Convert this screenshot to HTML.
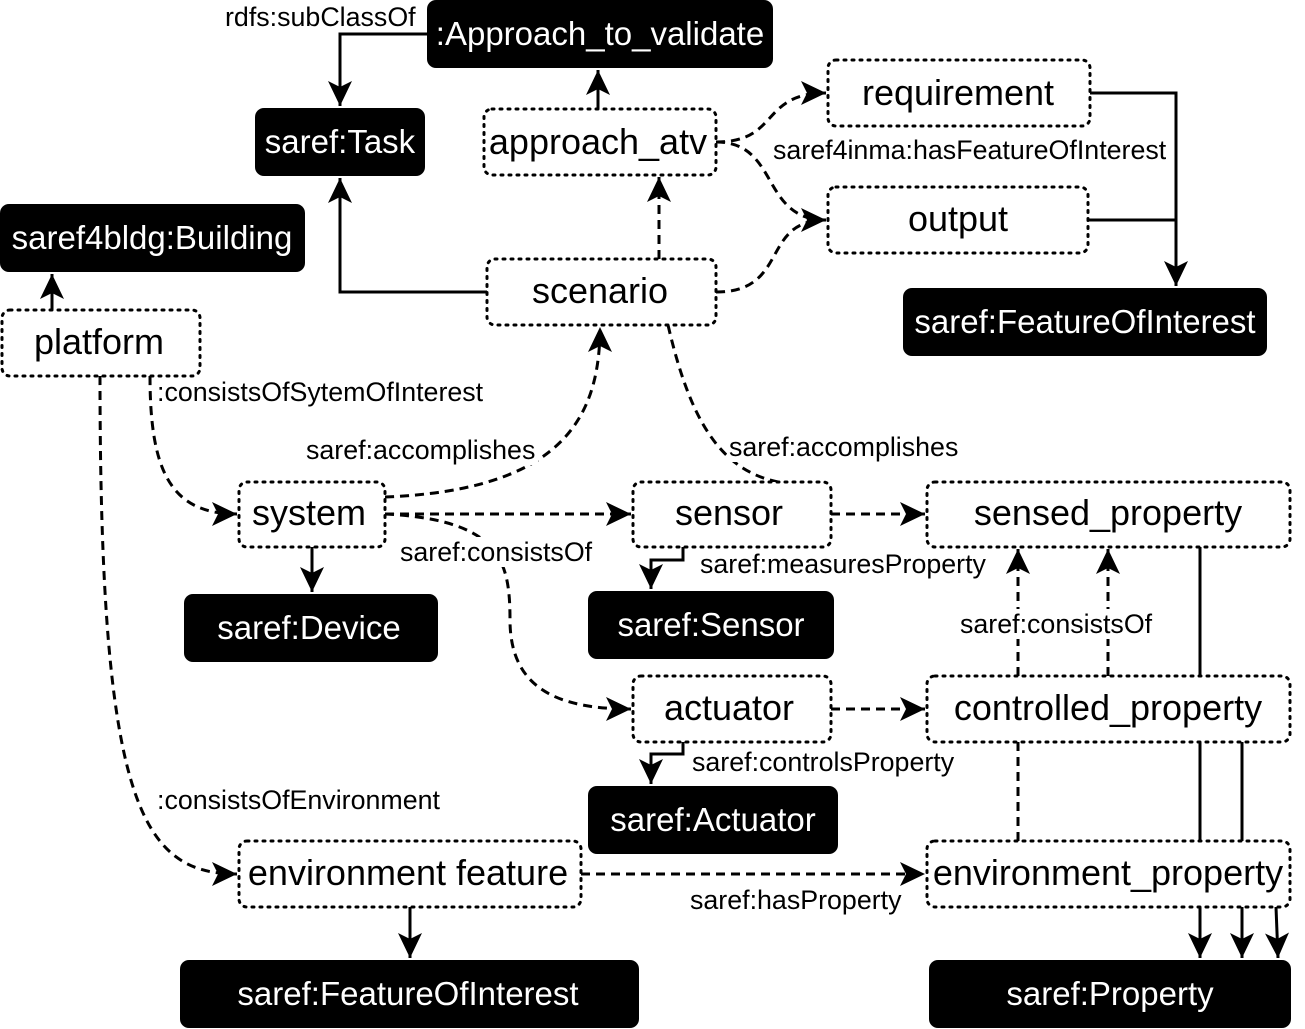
<!DOCTYPE html>
<html><head><meta charset="utf-8"><style>
body{margin:0;background:#fff}
svg{display:block;font-family:"Liberation Sans",sans-serif}
.d{fill:#fff;stroke:#000;stroke-width:3;stroke-dasharray:2 6;stroke-linecap:round}
.b{fill:#000}
.nt{font-size:36px;text-anchor:middle}
.bt{font-size:33px;text-anchor:middle;fill:#fff}
.l{font-size:26.8px}
.s{fill:none;stroke:#000;stroke-width:3}
.da{fill:none;stroke:#000;stroke-width:3;stroke-dasharray:9 6}
</style></head><body>
<svg width="1305" height="1029" viewBox="0 0 1305 1029">
<defs>
<marker id="A" markerWidth="26" markerHeight="24" refX="25" refY="12" orient="auto" markerUnits="userSpaceOnUse"><path d="M0,0 L25,12 L0,24 L6,12 z"/></marker></defs>

<path class="s" d="M598,109 V70" marker-end="url(#A)"/>
<path class="s" d="M427,34 H340 V106" marker-end="url(#A)"/>
<path class="s" d="M487,292 H340 V178" marker-end="url(#A)"/>
<path class="da" d="M659,259 V177" marker-end="url(#A)"/>
<path class="da" d="M716,142 C780,142 760,93 826,93" marker-end="url(#A)"/>
<path class="da" d="M716,142 C780,142 760,220 826,220" marker-end="url(#A)"/>
<path class="da" d="M716,292 C790,292 760,220 826,220"/>
<path class="s" d="M1090,93 H1176 V286" marker-end="url(#A)"/>
<path class="s" d="M1088,220 H1176"/>
<path class="s" d="M52,310 V274" marker-end="url(#A)"/>
<path class="da" d="M150,376 C150,470 170,514 237,514" marker-end="url(#A)"/>
<path class="da" d="M100,376 C100,800 140,874 237,874" marker-end="url(#A)"/>
<path class="da" d="M385,497 C560,490 600,420 600,327" marker-end="url(#A)"/>
<path class="da" d="M668,325 C690,420 720,470 778,482"/>
<path class="da" d="M385,514 H631" marker-end="url(#A)"/>
<path class="da" d="M385,514 C500,520 510,560 510,620 C510,690 560,709 631,709" marker-end="url(#A)"/>
<path class="s" d="M312,547 V592" marker-end="url(#A)"/>
<path class="s" d="M683,547 V560 H651 V589" marker-end="url(#A)"/>
<path class="da" d="M831,514 H925" marker-end="url(#A)"/>
<path class="da" d="M831,709 H925" marker-end="url(#A)"/>
<path class="s" d="M683,742 V754 H651 V784" marker-end="url(#A)"/>
<path class="da" d="M1018,676 V549" marker-end="url(#A)"/>
<path class="da" d="M1108,676 V549" marker-end="url(#A)"/>
<path class="da" d="M1018,841 V742"/>
<path class="s" d="M1200,547 V958" marker-end="url(#A)"/>
<path class="s" d="M1242,742 V958" marker-end="url(#A)"/>
<path class="s" d="M1276,907 L1278,958" marker-end="url(#A)"/>
<path class="da" d="M581,874 H925" marker-end="url(#A)"/>
<path class="s" d="M410,907 V958" marker-end="url(#A)"/>

<rect class="d" x="484" y="109" width="232" height="66" rx="8"/><text class="nt" x="598" y="154">approach_atv</text>
<rect class="d" x="828" y="60" width="262" height="66" rx="8"/><text class="nt" x="958" y="105">requirement</text>
<rect class="d" x="828" y="187" width="260" height="66" rx="8"/><text class="nt" x="958" y="231">output</text>
<rect class="d" x="487" y="259" width="229" height="66" rx="8"/><text class="nt" x="600" y="303">scenario</text>
<rect class="d" x="2" y="310" width="198" height="66" rx="8"/><text class="nt" x="99" y="354">platform</text>
<rect class="d" x="239" y="482" width="146" height="65" rx="8"/><text class="nt" x="309" y="525">system</text>
<rect class="d" x="633" y="482" width="198" height="65" rx="8"/><text class="nt" x="729" y="525">sensor</text>
<rect class="d" x="927" y="482" width="363" height="65" rx="8"/><text class="nt" x="1108" y="525">sensed_property</text>
<rect class="d" x="633" y="676" width="198" height="66" rx="8"/><text class="nt" x="729" y="720">actuator</text>
<rect class="d" x="927" y="676" width="363" height="66" rx="8"/><text class="nt" x="1108" y="720">controlled_property</text>
<rect class="d" x="239" y="841" width="342" height="66" rx="8"/><text class="nt" x="408" y="885">environment feature</text>
<rect class="d" x="927" y="841" width="363" height="66" rx="8"/><text class="nt" x="1108" y="885">environment_property</text>

<rect class="b" x="427" y="0" width="346" height="68" rx="9"/><text class="bt" x="600" y="45">:Approach_to_validate</text>
<rect class="b" x="255" y="108" width="170" height="68" rx="9"/><text class="bt" x="340" y="153">saref:Task</text>
<rect class="b" x="0" y="204" width="305" height="68" rx="9"/><text class="bt" x="152" y="249">saref4bldg:Building</text>
<rect class="b" x="903" y="288" width="364" height="68" rx="9"/><text class="bt" x="1085" y="333">saref:FeatureOfInterest</text>
<rect class="b" x="184" y="594" width="254" height="68" rx="9"/><text class="bt" x="309" y="639">saref:Device</text>
<rect class="b" x="588" y="591" width="246" height="68" rx="9"/><text class="bt" x="711" y="636">saref:Sensor</text>
<rect class="b" x="588" y="786" width="250" height="68" rx="9"/><text class="bt" x="713" y="831">saref:Actuator</text>
<rect class="b" x="180" y="960" width="459" height="68" rx="9"/><text class="bt" x="408" y="1005">saref:FeatureOfInterest</text>
<rect class="b" x="929" y="960" width="362" height="68" rx="9"/><text class="bt" x="1110" y="1005">saref:Property</text>

<g class="l">
<rect x="222" y="2" width="200" height="28" fill="#fff"/><text x="225" y="26">rdfs:subClassOf</text>
<rect x="770" y="135" width="400" height="30" fill="#fff"/><text x="773" y="159">saref4inma:hasFeatureOfInterest</text>
<text x="157" y="401">:consistsOfSytemOfInterest</text>
<rect x="304" y="435" width="234" height="30" fill="#fff"/><text x="306" y="459">saref:accomplishes</text>
<rect x="727" y="432" width="235" height="30" fill="#fff"/><text x="729" y="456">saref:accomplishes</text>
<rect x="398" y="537" width="197" height="30" fill="#fff"/><text x="400" y="561">saref:consistsOf</text>
<rect x="698" y="549" width="292" height="30" fill="#fff"/><text x="700" y="573">saref:measuresProperty</text>
<rect x="958" y="609" width="197" height="30" fill="#fff"/><text x="960" y="633">saref:consistsOf</text>
<rect x="690" y="747" width="267" height="30" fill="#fff"/><text x="692" y="771">saref:controlsProperty</text>
<text x="157" y="809">:consistsOfEnvironment</text>
<text x="690" y="909">saref:hasProperty</text>
</g>
</svg>
</body></html>
